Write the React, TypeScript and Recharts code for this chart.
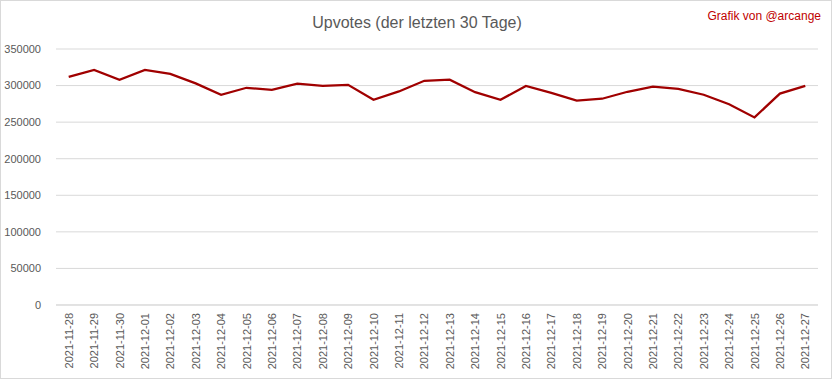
import React from 'react';
import { LineChart, Line, XAxis, YAxis, CartesianGrid } from 'recharts';

const dates = [
  '2021-11-28', '2021-11-29', '2021-11-30', '2021-12-01', '2021-12-02', '2021-12-03',
  '2021-12-04', '2021-12-05', '2021-12-06', '2021-12-07', '2021-12-08', '2021-12-09',
  '2021-12-10', '2021-12-11', '2021-12-12', '2021-12-13', '2021-12-14', '2021-12-15',
  '2021-12-16', '2021-12-17', '2021-12-18', '2021-12-19', '2021-12-20', '2021-12-21',
  '2021-12-22', '2021-12-23', '2021-12-24', '2021-12-25', '2021-12-26', '2021-12-27',
];

const upvotes = [
  312000, 321500, 308000, 321500, 316000, 303000,
  287500, 297000, 294000, 302500, 299500, 301000,
  280500, 292000, 306500, 308000, 291000, 280500,
  299500, 290000, 279500, 282000, 291500, 298500,
  295500, 287500, 274500, 256500, 289000, 299500,
];

const yTicks = [0, 50000, 100000, 150000, 200000, 250000, 300000, 350000];

const data = dates.map((d, i) => ({ date: d, value: upvotes[i] }));

const FONT = '"Liberation Sans", Arial, sans-serif';

const XTick = (props: any) => {
  const { x, y, payload } = props;
  return (
    <g transform={`translate(${x},${y})`}>
      <text
        x={0}
        y={0}
        dy={4}
        textAnchor="end"
        transform="rotate(-90)"
        fill="#595959"
        fontSize={11}
        fontFamily={FONT}
      >
        {payload.value}
      </text>
    </g>
  );
};

export default function App() {
  return (
    <div
      style={{
        position: 'fixed',
        left: 0,
        top: 0,
        width: 832,
        height: 379,
        background: '#fff',
        boxSizing: 'border-box',
        border: '1px solid #d9d9d9',
        fontFamily: FONT,
      }}
    >
      <div
        style={{
          position: 'absolute',
          left: 0,
          width: 832,
          top: 12,
          textAlign: 'center',
          fontSize: 16,
          color: '#595959',
          lineHeight: '20px',
        }}
      >
        Upvotes (der letzten 30 Tage)
      </div>
      <div
        style={{
          position: 'absolute',
          right: 10,
          top: 7,
          fontSize: 12,
          color: '#C00000',
          lineHeight: '16px',
        }}
      >
        Grafik von @arcange
      </div>
      <div style={{ position: 'absolute', left: -1, top: -1 }}>
        <LineChart
          width={832}
          height={379}
          data={data}
          margin={{ top: 49, right: 14, bottom: 0, left: 0 }}
        >
          <CartesianGrid vertical={false} stroke="#d9d9d9" strokeWidth={1} />
          <XAxis
            dataKey="date"
            interval={0}
            tick={<XTick />}
            tickLine={false}
            axisLine={{ stroke: '#d9d9d9' }}
            height={74}
            tickMargin={2}
            padding={{ left: 12.7, right: 12.7 }}
          />
          <YAxis
            domain={[0, 350000]}
            ticks={yTicks}
            width={56}
            tickLine={false}
            axisLine={false}
            tick={{ fill: '#595959', fontSize: 11, fontFamily: FONT }}
            tickMargin={9}
          />
          <Line
            type="linear"
            dataKey="value"
            stroke="#A00000"
            strokeWidth={2.25}
            dot={false}
            isAnimationActive={false}
          />
        </LineChart>
      </div>
    </div>
  );
}
